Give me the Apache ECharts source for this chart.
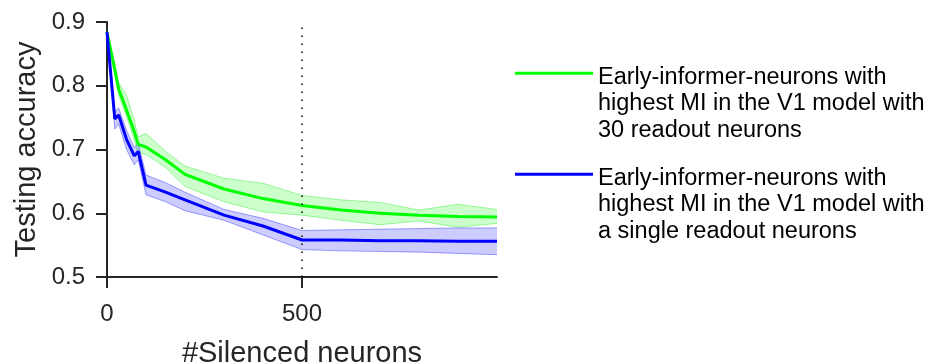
<!DOCTYPE html>
<html>
<head>
<meta charset="utf-8">
<title>Testing accuracy vs silenced neurons</title>
<script src="https://cdn.jsdelivr.net/npm/echarts@6/dist/echarts.min.js"></script>
<style>
  html, body { margin: 0; padding: 0; background: #ffffff; }
  #chart { width: 932px; height: 364px; }
</style>
</head>
<body>
<div id="chart"></div>
<script>
// Number of silenced neurons at which accuracy was measured
const silenced = [0, 20, 30, 50, 70, 80, 100, 150, 200, 300, 400, 500, 600, 700, 800, 900, 1000];

// 30 readout neurons: mean accuracy and shaded spread
const readout30Mean = [0.884, 0.825, 0.795, 0.762, 0.728, 0.708, 0.704, 0.684, 0.661, 0.638, 0.623, 0.612, 0.605, 0.600, 0.597, 0.595, 0.594];
const readout30Low  = [0.880, 0.815, 0.785, 0.752, 0.715, 0.695, 0.692, 0.672, 0.642, 0.618, 0.602, 0.597, 0.589, 0.582, 0.588, 0.578, 0.584];
const readout30High = [0.888, 0.835, 0.805, 0.785, 0.745, 0.720, 0.725, 0.697, 0.674, 0.655, 0.647, 0.628, 0.621, 0.617, 0.605, 0.614, 0.606];

// Single readout neuron: mean accuracy and shaded spread
const readout1Mean = [0.884, 0.748, 0.754, 0.716, 0.690, 0.697, 0.644, 0.633, 0.621, 0.597, 0.580, 0.558, 0.558, 0.557, 0.557, 0.556, 0.556];
const readout1Low  = [0.880, 0.732, 0.740, 0.700, 0.676, 0.684, 0.629, 0.618, 0.604, 0.589, 0.566, 0.543, 0.541, 0.540, 0.539, 0.537, 0.535];
const readout1High = [0.888, 0.760, 0.765, 0.730, 0.703, 0.710, 0.660, 0.648, 0.633, 0.606, 0.592, 0.573, 0.574, 0.575, 0.576, 0.577, 0.577];

const xTicks = [0, 500];
const yTicks = [0.5, 0.6, 0.7, 0.8, 0.9];
const markerX = 500;

const legend30 = ['Early-informer-neurons with', 'highest MI in the V1 model with', '30 readout neurons'];
const legend1  = ['Early-informer-neurons with', 'highest MI in the V1 model with', 'a single readout neurons'];
const name30 = legend30.join(' ');
const name1 = legend1.join(' ');

const FONT = '"Liberation Sans", Arial, Helvetica, sans-serif';
const INK = '#262626';

const pairs = (xs, ys) => xs.map((x, i) => [x, ys[i]]);

// Shaded spread drawn as one polygon between the low and high curves,
// placed through the cartesian coordinate system.
function bandSeries(id, lo, hi, edge, fill) {
  return {
    name: id, type: 'custom', silent: true, z: 1,
    data: silenced.map((x, i) => [x, lo[i], hi[i]]),
    encode: { x: 0, y: [1, 2] },
    renderItem: function (params, api) {
      if (params.dataIndex !== 0) return null;
      const upper = silenced.map((x, i) => api.coord([x, hi[i]]));
      const lower = silenced.map((x, i) => api.coord([x, lo[i]]));
      return {
        type: 'group',
        children: [
          { type: 'polygon', shape: { points: upper.concat(lower.slice().reverse()) },
            style: { fill: fill, stroke: null } },
          { type: 'polyline', shape: { points: upper }, style: { fill: null, stroke: edge, lineWidth: 1 } },
          { type: 'polyline', shape: { points: lower }, style: { fill: null, stroke: edge, lineWidth: 1 } }
        ]
      };
    }
  };
}

const chart = echarts.init(document.getElementById('chart'), null, { renderer: 'canvas' });

chart.setOption({
  animation: false,
  backgroundColor: '#ffffff',
  textStyle: { fontFamily: FONT, color: INK },
  grid: { left: 107, right: 435, top: 22, bottom: 87, containLabel: false, outerBoundsMode: 'none' },
  legend: {
    data: [name30, name1],
    orient: 'vertical',
    left: 515,
    top: 3,
    padding: 0,
    itemGap: -39.5,
    itemWidth: 78,
    itemHeight: 3,
    icon: 'rect',
    selectedMode: false,
    // two taller blank lines lead the text so the swatch sits by the first line
    formatter: function (n) {
      const lines = (n === name30 ? legend30 : legend1).map(s => '{t|' + s + '}');
      return ['{g| }', '{g| }'].concat(lines).join('\n');
    },
    textStyle: {
      fontFamily: FONT, fontSize: 23.5, lineHeight: 26.5, color: '#000000',
      rich: {
        g: { fontSize: 23.5, lineHeight: 30.5 },
        t: { fontFamily: FONT, fontSize: 23.5, lineHeight: 26.5, color: '#000000' }
      }
    }
  },
  xAxis: {
    type: 'value', min: 0, max: 1000, interval: 500,
    name: '#Silenced neurons', nameLocation: 'middle', nameGap: 62,
    nameTextStyle: { fontFamily: FONT, fontSize: 29, color: INK },
    splitLine: { show: false },
    axisLine: { show: true, lineStyle: { color: INK, width: 2 } },
    axisTick: { show: true, length: 11, lineStyle: { color: INK, width: 2 }, customValues: xTicks },
    axisLabel: { fontFamily: FONT, fontSize: 24, color: INK, margin: 25, customValues: xTicks }
  },
  yAxis: {
    type: 'value', min: 0.5, max: 0.9, interval: 0.1,
    name: 'Testing accuracy', nameLocation: 'middle', nameGap: 66,
    nameTextStyle: { fontFamily: FONT, fontSize: 29, color: INK },
    splitLine: { show: false },
    axisLine: { show: true, lineStyle: { color: INK, width: 2 } },
    axisTick: { show: true, length: 11, lineStyle: { color: INK, width: 2 }, customValues: yTicks },
    axisLabel: { fontFamily: FONT, fontSize: 24, color: INK, margin: 22, customValues: yTicks,
      formatter: function (v) { return v.toFixed(1); } }
  },
  series: [
    bandSeries('band30', readout30Low, readout30High, 'rgba(0,230,0,0.35)', 'rgba(0,255,0,0.2)'),
    bandSeries('band1', readout1Low, readout1High, 'rgba(0,0,255,0.35)', 'rgba(0,0,255,0.2)'),
    {
      name: name30, type: 'line', data: pairs(silenced, readout30Mean),
      symbol: 'none', z: 3, color: '#00ff00',
      lineStyle: { color: '#00ff00', width: 3 },
      markLine: {
        silent: true, symbol: 'none', label: { show: false },
        lineStyle: { color: '#000000', width: 1.5, type: [1.5, 6.5] },
        data: [{ xAxis: markerX }]
      }
    },
    {
      name: name1, type: 'line', data: pairs(silenced, readout1Mean),
      symbol: 'none', z: 3, color: '#0000ff',
      lineStyle: { color: '#0000ff', width: 3 }
    }
  ]
});
</script>
</body>
</html>
